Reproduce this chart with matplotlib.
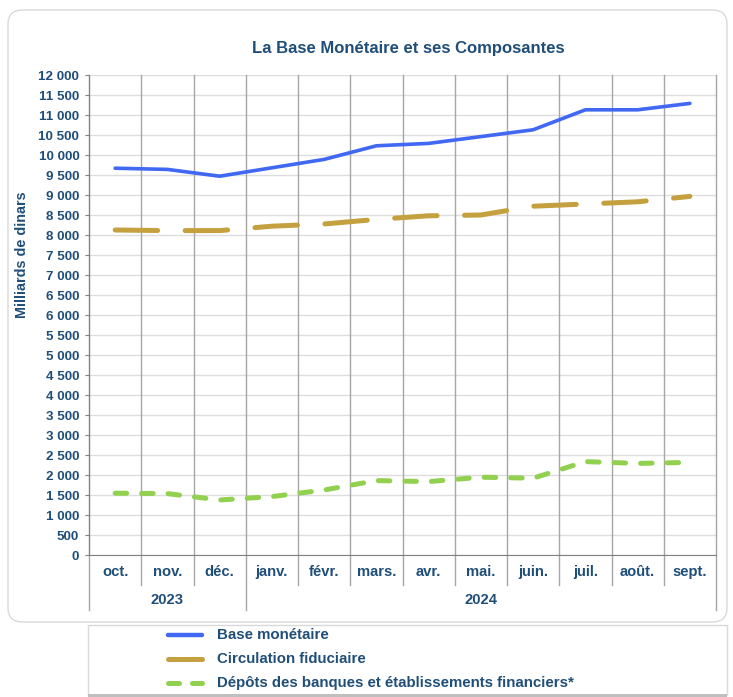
import matplotlib.pyplot as plt
from matplotlib.patches import FancyBboxPatch, Rectangle
from matplotlib.lines import Line2D
import matplotlib.transforms as mtransforms

plt.rcParams["font.family"] = ["Liberation Sans", "DejaVu Sans"]

# données (milliards de dinars)
mois = ["oct.", "nov.", "déc.", "janv.", "févr.", "mars.", "avr.", "mai.",
        "juin.", "juil.", "août.", "sept."]
annees = ["2023", "2024"]
base_monetaire = [9670, 9640, 9470, 9680, 9890, 10230, 10290, 10460,
                  10630, 11130, 11130, 11290]
circulation = [8125, 8110, 8110, 8220, 8275, 8390, 8480, 8500,
               8720, 8775, 8830, 8965]
depots = [1545, 1535, 1375, 1460, 1625, 1860, 1835, 1945,
          1920, 2335, 2290, 2315]
noms = ["Base monétaire", "Circulation fiduciaire",
        "Dépôts des banques et établissements financiers*"]

bleu = "#4068F2"
or_ = "#C4A03E"
vert = "#92D050"
texte = "#1F4E79"

W, H = 733, 697
fig = plt.figure(figsize=(W / 100, H / 100), dpi=100)

# cadre arrondi autour du graphique
fig.patches.append(FancyBboxPatch((8 / W, 1 - 622 / H), 719 / W, 612 / H,
                                  boxstyle="round,pad=0,rounding_size=0.02",
                                  transform=fig.transFigure, fc="white",
                                  ec="#D9D9D9", lw=1, zorder=-2))
# cadre de la légende
fig.patches.append(Rectangle((88 / W, 1 - 695 / H), 639 / W, 70 / H,
                             transform=fig.transFigure, fc="white",
                             ec="#D9D9D9", lw=1, zorder=-2))
fig.patches.append(Rectangle((88 / W, 1 - 697 / H), 639 / W, 3 / H,
                             transform=fig.transFigure, fc="#BFBFBF",
                             ec="none", zorder=-2))

ax = fig.add_axes([89 / W, 1 - 555 / H, 627 / W, 480 / H])
ax.patch.set_alpha(0)
x = list(range(len(mois)))

ax.plot(x, base_monetaire, color=bleu, lw=2.6, solid_capstyle="round")
ax.plot(x, circulation, color=or_, lw=3.6, dashes=(8.5, 5.5),
        dash_capstyle="round")
ax.plot(x, depots, color=vert, lw=3.6, dashes=(2.3, 3.0),
        dash_capstyle="round")

ax.set_xlim(-0.5, len(mois) - 0.5)
ax.set_ylim(0, 12000)
ax.set_yticks(range(0, 12001, 500))
ax.set_yticklabels([f"{v:,}".replace(",", " ") for v in range(0, 12001, 500)],
                   fontsize=9.6, fontweight="bold", color=texte)
ax.yaxis.grid(True, color="#DDDDDD", lw=1)
ax.set_axisbelow(True)
ax.tick_params(axis="y", length=3, color="#808080", pad=4)
ax.set_xticks([])
for s in ["top", "right"]:
    ax.spines[s].set_visible(False)
ax.spines["left"].set_color("#808080")
ax.spines["bottom"].set_color("#808080")

# lignes verticales de séparation des mois
trans = mtransforms.blended_transform_factory(ax.transData, ax.transAxes)
for k in range(len(mois) + 1):
    xb = k - 0.5
    bas = -0.115 if k in (0, 3, len(mois)) else -0.0625
    ax.add_line(Line2D([xb, xb], [1, bas], transform=trans, color="#A6A6A6",
                       lw=1, clip_on=False, zorder=1))

for i, m in enumerate(mois):
    ax.text(i, -0.036, m, transform=trans, ha="center", va="center",
            fontsize=10.6, fontweight="bold", color=texte)
ax.text(1, -0.094, annees[0], transform=trans, ha="center", va="center",
        fontsize=10.6, fontweight="bold", color=texte)
ax.text(7, -0.094, annees[1], transform=trans, ha="center", va="center",
        fontsize=10.6, fontweight="bold", color=texte)

ax.set_ylabel("Milliards de dinars", fontsize=10.4, fontweight="bold",
              color=texte)
ax.yaxis.set_label_coords(-0.095, 0.625)

fig.text(408 / W, 1 - 48 / H, "La Base Monétaire et ses Composantes",
         ha="center", va="center", fontsize=12, fontweight="bold",
         color=texte)

# légende dessinée à la main
styles = [dict(color=bleu, lw=3.2, solid_capstyle="round"),
          dict(color=or_, lw=3.6, solid_capstyle="round"),
          dict(color=vert, lw=3.6, dashes=(2.2, 2.6), dash_capstyle="round")]
for j, (nom, st) in enumerate(zip(noms, styles)):
    yy = 1 - (635 + 24 * j) / H
    fig.add_artist(Line2D([168 / W, 202 / W], [yy, yy],
                          transform=fig.transFigure, **st))
    fig.text(217 / W, yy, nom, ha="left", va="center", fontsize=10.8,
             fontweight="bold", color=texte)

fig.savefig("out.png", dpi=100)
